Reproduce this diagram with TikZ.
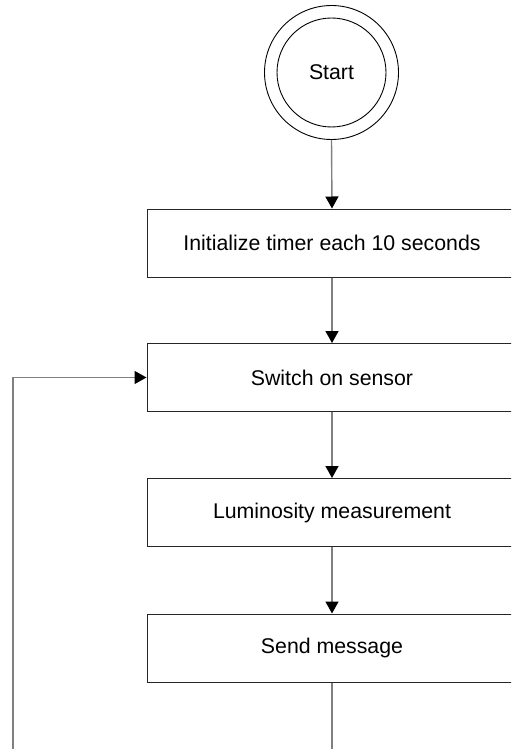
\documentclass[tikz,border=0pt]{standalone}
\usepackage{fontspec}
\setmainfont{Liberation Sans}
\usetikzlibrary{arrows.meta}
\begin{document}
\begin{tikzpicture}[x=1pt,y=-1pt,
  procbox/.style={draw=black!85,line width=1pt,minimum width=370pt,minimum height=68pt,inner sep=0pt,font=\fontsize{21.3}{25}\selectfont},
  flow/.style={draw=black!50,line width=1.4pt,-{Triangle[length=12pt,width=13pt,color=black]}},
  plainline/.style={draw=black!50,line width=1.4pt}]
\useasboundingbox (0,0) rectangle (511,749);
\clip (0,0) rectangle (511,749);
\node[circle,draw=black,line width=0.9pt,minimum size=134pt,inner sep=0pt] (outer) at (331.5,72.5) {};
\node[circle,draw=black,line width=0.9pt,minimum size=109pt,inner sep=0pt,font=\fontsize{21.3}{25}\selectfont] (start) at (331.5,72.5) {Start};
\node[procbox] (init) at (332,243) {Initialize timer each 10 seconds};
\node[procbox] (sensor) at (332,377.5) {Switch on sensor};
\node[procbox] (lum) at (332,512.5) {Luminosity measurement};
\node[procbox] (send) at (332,648) {Send message};
\coordinate (bottomA) at (332,760);
\coordinate (bottomB) at (13,760);
\coordinate (corner) at (13,377.5);
\draw[flow] (outer.south) -- (init.north);
\draw[flow] (init.south) -- (sensor.north);
\draw[flow] (sensor.south) -- (lum.north);
\draw[flow] (lum.south) -- (send.north);
\draw[plainline] (send.south) -- (bottomA);
\draw[flow] (bottomB) -- (corner) -- (sensor.west);
\end{tikzpicture}
\end{document}
